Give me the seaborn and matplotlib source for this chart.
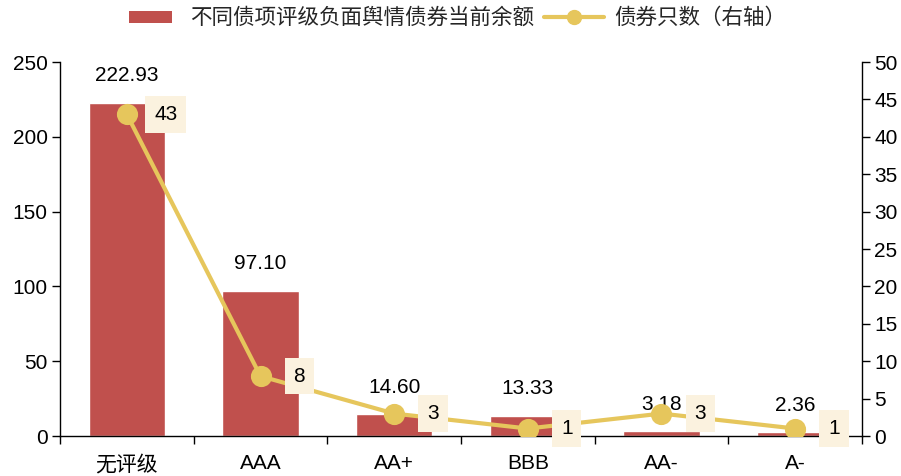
import matplotlib
matplotlib.use("Agg")
import matplotlib.pyplot as plt
import seaborn as sns
import pandas as pd
from matplotlib.patches import Patch, Rectangle
from matplotlib.lines import Line2D
from matplotlib.legend_handler import HandlerPatch
from matplotlib.ticker import FixedLocator

# Data
ratings = ["无评级", "AAA", "AA+", "BBB", "AA-", "A-"]
balance = [222.93, 97.10, 14.60, 13.33, 3.18, 2.36]
bond_count = [43, 8, 3, 1, 3, 1]
bar_label = "不同债项评级负面舆情债券当前余额"
line_label = "债券只数（右轴）"

df = pd.DataFrame({"rating": ratings, "balance": balance, "count": bond_count})

sns.set_theme(style="white")
plt.rcParams["font.family"] = ["Liberation Sans", "Noto Sans CJK SC", "DejaVu Sans"]

BAR_COLOR = "#C0504D"
LINE_COLOR = "#E6C65C"
BOX_COLOR = "#FBF2DF"
FS = 15

fig = plt.figure(figsize=(9.01, 4.76), dpi=100)
ax = fig.add_axes([0.0666, 0.084, 0.8901, 0.7857])

sns.barplot(data=df, x="rating", y="balance", color=BAR_COLOR, width=0.57,
            saturation=1, ax=ax, zorder=2)
ax.set_ylim(0, 250)
ax.set_xlim(-0.5, 5.5)
ax.set_yticks(range(0, 251, 50))
ax.set_xlabel("")
ax.set_ylabel("")

for i, v in enumerate(balance):
    ax.annotate(f"{v:.2f}", xy=(i, v), xytext=(0, 19.5), textcoords="offset points",
                ha="center", va="center", fontsize=FS, color="black", zorder=6)

ax2 = ax.twinx()
sns.pointplot(data=df, x="rating", y="count", color=LINE_COLOR, markers="o",
              markersize=13, linewidth=3, ax=ax2)
ax2.set_ylim(0, 50)
ax2.set_xlim(-0.5, 5.5)
ax2.set_yticks(range(0, 51, 5))
ax2.set_ylabel("")
ax2.set_xlabel("")

for i, c in enumerate(bond_count):
    ax2.annotate(f"{c}", xy=(i, c), xytext=(28, 0), textcoords="offset points",
                 ha="center", va="center", fontsize=FS, color="black", zorder=7,
                 bbox=dict(boxstyle="square,pad=0.42", fc=BOX_COLOR, ec="none"))

# Axes styling
for a in (ax, ax2):
    a.spines["top"].set_visible(False)
    for s in a.spines.values():
        s.set_color("black")
        s.set_linewidth(1.0)
ax.spines["right"].set_visible(False)
ax2.spines["left"].set_visible(False)
ax2.spines["bottom"].set_visible(False)

ax.tick_params(axis="y", direction="out", length=6, width=1, color="black",
               labelsize=FS, labelcolor="black", left=True, pad=3)
ax2.tick_params(axis="y", direction="out", length=6, width=1, color="black",
                labelsize=FS, labelcolor="black", right=True, pad=3)
ax.tick_params(axis="x", which="major", length=0, labelsize=FS, labelcolor="black", pad=13)
ax.xaxis.set_minor_locator(FixedLocator([i + 0.5 for i in range(-1, 6)]))
ax.tick_params(axis="x", which="minor", direction="out", length=6, width=1,
               color="black", bottom=True)
ax2.tick_params(axis="x", which="both", bottom=False, labelbottom=False)

# Chinese category label in the CJK face
cjk_tick = ax.get_xticklabels()[0]
cjk_tick.set_fontfamily(["Noto Sans CJK SC", "DejaVu Sans"])


def short_patch(legend, orig_handle, xdescent, ydescent, width, height, fontsize):
    w = width * 0.7
    return Rectangle((-xdescent + (width - w) / 2, -ydescent + height * 0.1), w, height * 0.8)


handles = [Patch(facecolor=BAR_COLOR, edgecolor="none"),
           Line2D([0], [0], color=LINE_COLOR, lw=3, marker="o", markersize=10)]
fig.legend(handles, [bar_label, line_label], loc="center", ncol=2,
           bbox_to_anchor=(0.503, 0.962), frameon=False,
           handlelength=2.8, handletextpad=0.45, columnspacing=0.45,
           handler_map={Patch: HandlerPatch(patch_func=short_patch)},
           prop={"family": ["Noto Sans CJK SC", "DejaVu Sans"], "size": 15.5})

fig.savefig("out.png", dpi=100)
